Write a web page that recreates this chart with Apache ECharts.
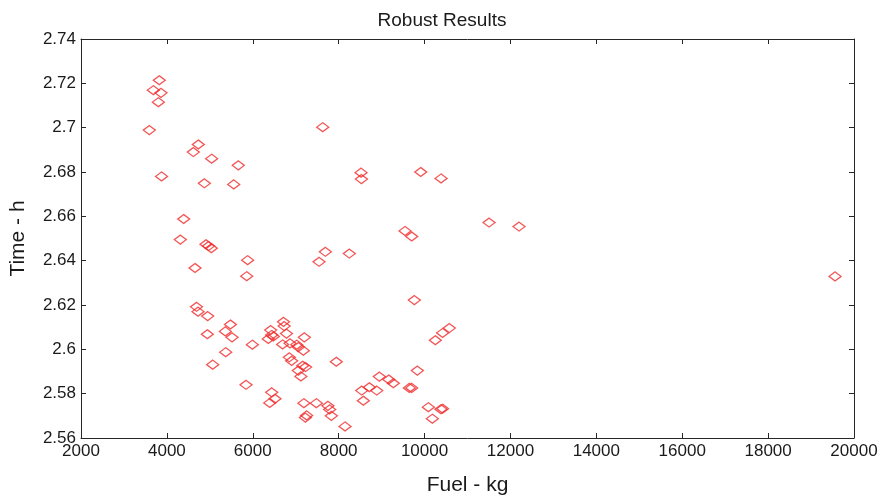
<!DOCTYPE html>
<html>
<head>
<meta charset="utf-8">
<script src="https://cdn.jsdelivr.net/npm/echarts@6/dist/echarts.min.js"></script>
<style>html,body{margin:0;padding:0;background:#fff;}#c{width:884px;height:501px;}</style>
</head>
<body>
<div id="c"></div>
<script>
var fuel = [3823,3684,3863,3801,3591,7629,4732,4616,5042,5663,3875,4872,5556,4391,4313,4910,4970,5035,5880,5859,4655,7543,7690,4690,4725,4950,4942,5480,5361,5517,5370,5067,5990,5843,6417,6362,6479,6440,6715,6731,6785,6695,6867,7023,7061,7177,7200,6851,6905,7161,7230,7061,7120,6441,6518,6395,7190,7480,7750,7790,7830,7254,7225,8148,8537,8575,7945,8714,8887,8947,9166,9273,9646,9700,9832,10088,10380,10420,10181,9762,10577,10420,10251,8521,8530,9911,10384,9545,9701,11502,12200,8248,19559];
var time = [2.7214,2.7169,2.7157,2.7115,2.6989,2.7002,2.6924,2.6890,2.6860,2.6830,2.6780,2.6749,2.6744,2.6588,2.6495,2.6474,2.6466,2.6456,2.6402,2.6330,2.6367,2.6395,2.6440,2.6192,2.6170,2.6150,2.6068,2.6112,2.6081,2.6054,2.5987,2.5931,2.6021,2.5840,2.6087,2.6047,2.6058,2.6065,2.6124,2.6105,2.6071,2.6022,2.6027,2.6021,2.6010,2.5994,2.6054,2.5964,2.5948,2.5926,2.5920,2.5904,2.5878,2.5806,2.5777,2.5758,2.5757,2.5757,2.5745,2.5729,2.5700,2.5702,2.5692,2.5652,2.5814,2.5768,2.5944,2.5829,2.5814,2.5877,2.5864,2.5847,2.5826,2.5826,2.5904,2.5739,2.5730,2.5732,2.5687,2.6222,2.6096,2.6074,2.6041,2.6797,2.6768,2.6800,2.6771,2.6534,2.6509,2.6572,2.6554,2.6432,2.6329];
var titleText = "Robust Results";
var xName = "Fuel - kg";
var yName = "Time - h";
var xMin = 2000, xMax = 20000, xStep = 2000;
var yMin = 2.56, yMax = 2.74, yStep = 0.02;

var pts = fuel.map(function(f, i){ return [f, time[i]]; });
var font = "Liberation Sans";
var lineCol = "#262626";
var txtCol = "#1a1a1a";
function xAx(pos, show){
  return {type:'value', position:pos, min:xMin, max:xMax, interval:xStep,
    name: show ? xName : '', nameLocation:'middle', nameGap:37,
    nameTextStyle:{fontFamily:font, fontSize:21, color:txtCol},
    axisLine:{show:true, onZero:false, lineStyle:{color:lineCol, width:1}},
    axisTick:{show:true, inside:true, length:5, lineStyle:{color:lineCol}},
    axisLabel:{show:show, fontFamily:font, fontSize:17, color:txtCol, margin:5,
      formatter:function(v){ return String(Math.round(v)); }},
    splitLine:{show:false}};
}
function yAx(pos, show){
  return {type:'value', position:pos, min:yMin, max:yMax, interval:yStep,
    name: show ? yName : '', nameLocation:'middle', nameGap:52,
    nameTextStyle:{fontFamily:font, fontSize:21, color:txtCol},
    axisLine:{show:true, onZero:false, lineStyle:{color:lineCol, width:1}},
    axisTick:{show:true, inside:true, length:5, lineStyle:{color:lineCol}},
    axisLabel:{show:show, fontFamily:font, fontSize:17, color:txtCol, margin:5,
      formatter:function(v){ return String(parseFloat(v.toFixed(2))); }},
    splitLine:{show:false}};
}
var chart = echarts.init(document.getElementById('c'), null, {renderer:'canvas'});
chart.setOption({
  backgroundColor:'#fff',
  animation:false,
  title:{text:titleText, left:'center', top:6, textStyle:{fontFamily:font, fontSize:19, fontWeight:'normal', color:txtCol}},
  grid:{left:81, right:30, top:39, bottom:62, containLabel:false},
  xAxis:[xAx('bottom', true), xAx('top', false)],
  yAxis:[yAx('left', true), yAx('right', false)],
  series:[{type:'scatter', xAxisIndex:0, yAxisIndex:0, data:pts,
    symbol:'diamond', symbolSize:[12,9],
    itemStyle:{color:'rgba(0,0,0,0)', borderColor:'#f02a2a', borderWidth:1.3}}]
});
</script>
</body>
</html>
